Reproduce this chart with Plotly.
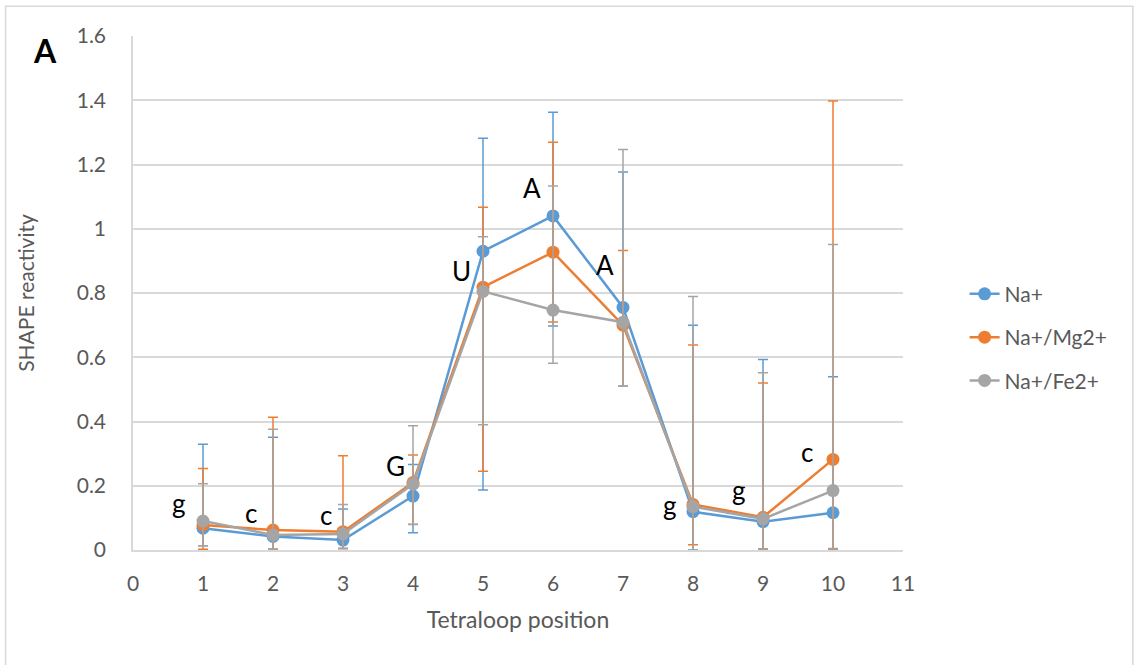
import plotly.graph_objects as go

# Tetraloop positions and SHAPE reactivity per buffer condition
positions = [1, 2, 3, 4, 5, 6, 7, 8, 9, 10]

na = [0.068, 0.042, 0.031, 0.168, 0.930, 1.040, 0.755, 0.119, 0.088, 0.116]
na_hi = [0.329, 0.351, 0.128, 0.266, 1.282, 1.363, 1.177, 0.700, 0.593, 0.539]
na_lo = [0.013, 0.002, 0.005, 0.054, 0.187, 0.697, 0.510, 0.000, 0.003, 0.003]

na_mg = [0.078, 0.062, 0.057, 0.210, 0.818, 0.927, 0.700, 0.142, 0.102, 0.282]
na_mg_hi = [0.254, 0.413, 0.293, 0.296, 1.067, 1.269, 0.932, 0.638, 0.520, 1.398]
na_mg_lo = [0.002, 0.002, 0.005, 0.079, 0.245, 0.710, 0.510, 0.016, 0.003, 0.000]

na_fe = [0.090, 0.047, 0.050, 0.205, 0.805, 0.747, 0.709, 0.135, 0.097, 0.185]
na_fe_hi = [0.206, 0.376, 0.142, 0.387, 0.975, 1.133, 1.247, 0.789, 0.552, 0.951]
na_fe_lo = [0.013, 0.002, 0.005, 0.080, 0.390, 0.581, 0.510, 0.000, 0.003, 0.005]

series_names = ["Na+", "Na+/Mg2+", "Na+/Fe2+"]

# Nucleotide letters and where they sit on the chart
letters = ["g", "c", "c", "G", "U", "A", "A", "g", "g", "c"]
letter_x = [0.664, 1.684, 2.762, 3.747, 4.690, 5.703, 6.745, 7.673, 8.657, 9.629]
letter_y = [0.146, 0.114, 0.109, 0.261, 0.868, 1.127, 0.887, 0.140, 0.187, 0.305]

colors = ["#5B9BD5", "#ED7D31", "#A5A5A5"]
FONT = "Lato"
TXT = "#595959"

fig = go.Figure()

series = [(na, na_hi, na_lo), (na_mg, na_mg_hi, na_mg_lo), (na_fe, na_fe_hi, na_fe_lo)]
for i, (name, (vals, hi, lo)) in enumerate(zip(series_names, series)):
    plus = [h - v for h, v in zip(hi, vals)]
    minus = [v - l for v, l in zip(vals, lo)]
    fig.add_trace(go.Scatter(
        x=positions, y=vals, name=name, mode="lines+markers",
        legendgroup=name,
        line=dict(color=colors[i], width=2.5),
        marker=dict(color=colors[i], size=13),
        error_y=dict(type="data", symmetric=False, array=plus, arrayminus=minus,
                     color=colors[i], thickness=1.5, width=5),
        cliponaxis=False,
    ))

annotations = [
    dict(x=x, y=y, text=t, showarrow=False, xanchor="center", yanchor="middle",
         font=dict(family=FONT, size=26, color="#000000"))
    for t, x, y in zip(letters, letter_x, letter_y)
]
annotations.append(dict(
    x=-0.114, y=0.972, xref="paper", yref="paper", text="<b>A</b>", showarrow=False,
    xanchor="center", yanchor="middle", font=dict(family=FONT, size=32, color="#000000")))

fig.update_layout(
    width=1136, height=665,
    margin=dict(l=132.5, r=233, t=36, b=115, pad=0),
    paper_bgcolor="white", plot_bgcolor="white",
    font=dict(family=FONT, color=TXT, size=21),
    showlegend=True,
    legend=dict(x=1.080, y=0.414, xanchor="left", yanchor="middle",
                font=dict(family=FONT, size=21, color=TXT),
                tracegroupgap=13, bgcolor="rgba(0,0,0,0)"),
    annotations=annotations,
    shapes=[dict(type="rect", xref="paper", yref="paper",
                 x0=-0.1655, x1=1.2985, y0=-0.3, y1=1.058,
                 line=dict(color="#d9d9d9", width=1.5), fillcolor="rgba(0,0,0,0)",
                 layer="below")],
)

fig.update_xaxes(
    range=[0, 11], dtick=1, tick0=0, showgrid=False, zeroline=False,
    showline=True, linecolor="#d9d9d9", linewidth=1.5,
    ticks="", ticklabelstandoff=14, tickfont=dict(size=21, color=TXT),
    title=dict(text="Tetraloop position", font=dict(size=23, color=TXT), standoff=18),
)
fig.update_yaxes(
    range=[0, 1.6], dtick=0.2, tick0=0, showgrid=True, gridcolor="#d9d9d9", gridwidth=1.5,
    zeroline=False, showline=True, linecolor="#d9d9d9", linewidth=1.5,
    ticks="", ticklabelstandoff=21, tickfont=dict(size=21, color=TXT),
    title=dict(text="SHAPE reactivity", font=dict(size=21, color=TXT), standoff=36),
)

fig.write_html("out.html")
